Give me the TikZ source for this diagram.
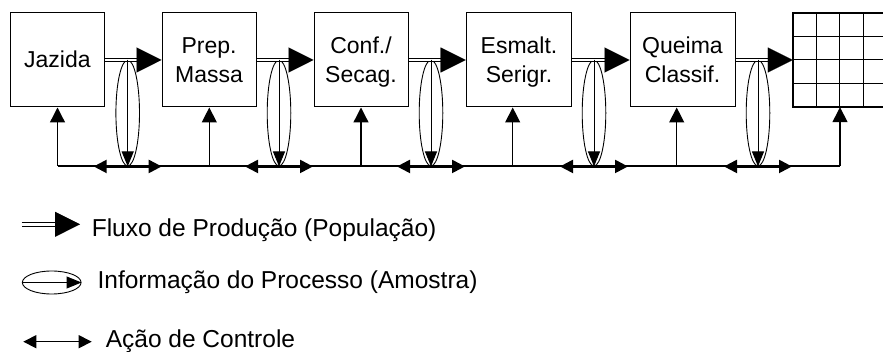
\documentclass[tikz,border=0pt]{standalone}
\usepackage{fontspec}
\setmainfont{Liberation Sans}
\usetikzlibrary{arrows.meta,shapes.geometric}
\newcommand\bxs{\rule[-0.212em]{0pt}{1.117em}}
\begin{document}
\begin{tikzpicture}[x=1pt,y=-1pt,
 box/.style={draw, line width=1pt, minimum height=94pt, inner sep=0pt, align=center, font=\fontsize{23}{29.3}\selectfont},
 flowd/.style={draw, double, double distance=1.8pt, line width=0.9pt},
 flowdl/.style={draw, double, double distance=3.2pt, line width=0.9pt},
 flowtip/.style={line width=0.1pt, -{Triangle[length=25pt,width=25pt]}},
 samp/.style={draw, ellipse, line width=0.9pt, inner sep=0pt, minimum width=23.6pt, minimum height=106pt},
 infoarr/.style={line width=1pt, -{Triangle[length=15pt,width=12pt]}},
 ctrl/.style={line width=1.3pt, -{Triangle[length=15pt,width=15pt]}},
 bus/.style={line width=1.3pt},
 act/.style={line width=2.2pt, {Triangle[length=13pt,width=13pt]}-{Triangle[length=13pt,width=13pt]}},
 actl/.style={line width=1.3pt, {Triangle[length=13pt,width=13pt]}-{Triangle[length=13pt,width=13pt]}},
 gridl/.style={line width=1pt},
 leg/.style={anchor=base west, inner sep=0pt, font=\fontsize{24.5}{28}\selectfont}
]
\useasboundingbox (0,0) rectangle (883,352);
\clip (0,0) rectangle (883,352);

% process boxes
\node[box, minimum width=93.3pt] (A) at (57.35,60) {\bxs Jazida};
\node[box, minimum width=94pt] (B) at (209,60) {\bxs Prep.\\\bxs Massa};
\node[box, minimum width=94pt] (C) at (361,60) {\bxs Conf./\\\bxs Secag.};
\node[box, minimum width=105.7pt] (D) at (519,60) {\bxs Esmalt.\\\bxs Serigr.};
\node[box, minimum width=105pt] (E) at (682.5,60) {\bxs Queima\\\bxs Classif.};

% grid (product)
\node[minimum width=94pt, minimum height=94pt, inner sep=0pt] (G) at (840,60) {};
\foreach \i in {1,2,3} {
  \draw[gridl] ([xshift=23.5*\i pt]G.north west) -- ([xshift=23.5*\i pt]G.south west);
  \draw[gridl] ([yshift=-23.5*\i pt]G.north west) -- ([yshift=-23.5*\i pt]G.north east);
}
\draw[line width=2.2pt] (G.north west) rectangle (G.south east);

% sample ellipses
\node[samp] (e1) at (127.7,113) {};
\node[samp] (e2) at (279,113) {};
\node[samp] (e3) at (431,113) {};
\node[samp] (e4) at (594,113) {};
\node[samp] (e5) at (758,113) {};

% production flow
\foreach \a/\b in {A/B,B/C,C/D,D/E,E/G} {
  \draw[flowd] (\a.east) -- ([xshift=-24pt]\b.west);
  \draw[flowtip] ([xshift=-25pt]\b.west) -- (\b.west);
}

% information arrows
\foreach \e in {e1,e2,e3,e4,e5}
  \draw[infoarr] (\e.north) -- (\e.south);

% control bus
\coordinate (cA) at (57.5,166);
\coordinate (cB) at (209.3,166);
\coordinate (cC) at (361,166);
\coordinate (cD) at (512.7,166);
\coordinate (cE) at (676.7,166);
\coordinate (cG) at (840,166);
\draw[bus] (cA) -- (cG);
\foreach \c/\n in {cA/A,cB/B,cC/C,cD/D,cE/E,cG/G}
  \draw[ctrl] (\c) -- (\c |- \n.south);
\foreach \e in {e1,e2,e3,e4,e5}
  \draw[act] ([xshift=-34pt]\e.south) -- ([xshift=34pt]\e.south);

% legend
\coordinate (lf1) at (21.7,224.3);
\coordinate (lf2) at (80,224.3);
\draw[flowdl] (lf1) -- ([xshift=-24pt]lf2);
\draw[flowtip] ([xshift=-25pt]lf2) -- (lf2);
\node[leg] (t1) at (91.6,236.8) {Fluxo de Produção (População)};

\node[draw, ellipse, line width=0.9pt, inner sep=0pt, minimum width=58.7pt, minimum height=23pt] (li) at (51.7,282.5) {};
\draw[infoarr] (li.west) -- (li.east);
\node[leg] (t2) at (97.4,288.8) {Informação do Processo (Amostra)};

\coordinate (lc1) at (23.3,341.7);
\coordinate (lc2) at (91.7,341.7);
\draw[actl] (lc1) -- (lc2);
\node[leg] (t3) at (105.6,347.8) {Ação de Controle};
\end{tikzpicture}
\end{document}
